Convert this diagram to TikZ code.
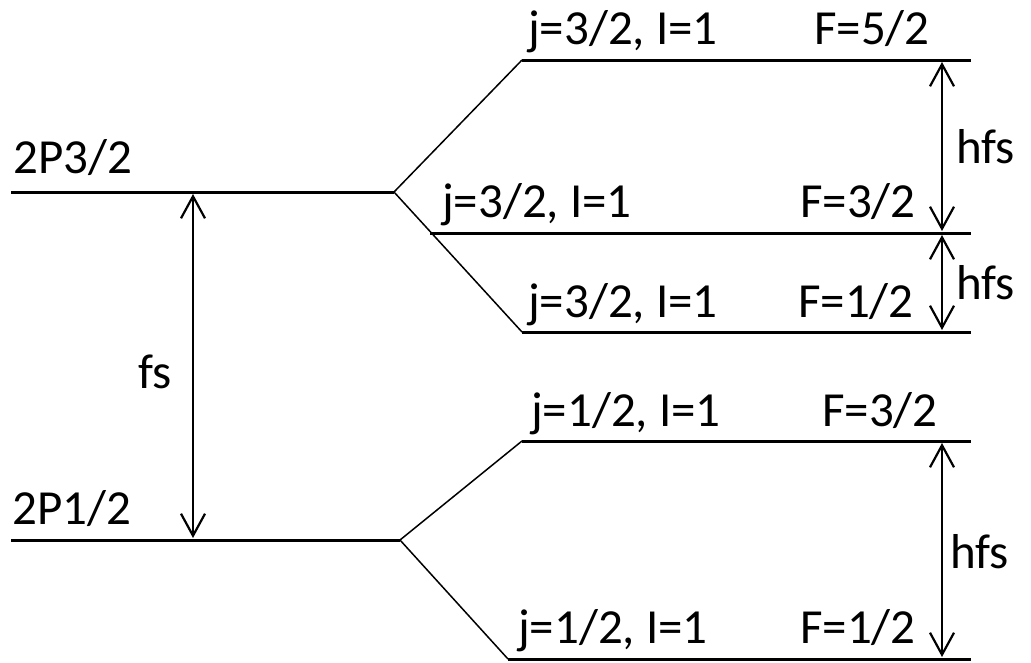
\documentclass[tikz,border=0pt]{standalone}
\usepackage{fontspec}
\setmainfont{Carlito}
\usetikzlibrary{arrows.meta}
\begin{document}
\begin{tikzpicture}[x=1pt,y=-1pt,
 level/.style={line width=3pt},
 fan/.style={line width=1.5pt},
 gap/.style={line width=2.2pt,{Straight Barb[length=22pt,width=24pt]}-{Straight Barb[length=22pt,width=24pt]}},
 lbl/.style={inner sep=0pt,anchor=base west,font=\fontsize{49}{58}\selectfont}]
\useasboundingbox (0,0) rectangle (1031,662);
% levels
\coordinate (a1) at (11,192); \coordinate (a2) at (394,192);
\coordinate (b1) at (11,540); \coordinate (b2) at (400,540);
\coordinate (u1) at (522,60);  \coordinate (u2) at (971,60);
\coordinate (m1) at (430,233); \coordinate (m2) at (971,233);
\coordinate (l1) at (522,332); \coordinate (l2) at (971,332);
\coordinate (p1) at (522,441); \coordinate (p2) at (971,441);
\coordinate (q1) at (508,659); \coordinate (q2) at (971,659);
\draw[level] (a1) -- (a2);
\draw[level] (b1) -- (b2);
\draw[level] (u1) -- (u2);
\draw[level] (m1) -- (m2);
\draw[level] (l1) -- (l2);
\draw[level] (p1) -- (p2);
\draw[level] (q1) -- (q2);
\draw[fan] (a2) -- (u1);
\draw[fan] (a2) -- (l1);
\draw[fan] (b2) -- (p1);
\draw[fan] (b2) -- (q1);
% arrows
\coordinate (fsT) at (193,194); \coordinate (fsB) at (193,538);
\coordinate (h1T) at (942,62);  \coordinate (h1B) at (942,231);
\coordinate (h2T) at (942,235); \coordinate (h2B) at (942,330);
\coordinate (h3T) at (942,443); \coordinate (h3B) at (942,657);
\draw[gap] (fsT) -- (fsB);
\draw[gap] (h1T) -- (h1B);
\draw[gap] (h2T) -- (h2B);
\draw[gap] (h3T) -- (h3B);
% labels
\node[lbl] (t1) at (13,173) {2P3/2};
\node[lbl] (t2) at (12,524) {2P1/2};
\node[lbl] (tfs) at (138,388) {fs};
\node[lbl] (j1) at (528,44) {j=3/2, I=1};
\node[lbl] (f1) at (814,44) {F=5/2};
\node[lbl] (j2) at (442,217) {j=3/2, I=1};
\node[lbl] (f2) at (800,217) {F=3/2};
\node[lbl] (j3) at (528,317) {j=3/2, I=1};
\node[lbl] (f3) at (798,317) {F=1/2};
\node[lbl] (j4) at (531,426) {j=1/2, I=1};
\node[lbl] (f4) at (822,426) {F=3/2};
\node[lbl] (j5) at (518,643) {j=1/2, I=1};
\node[lbl] (f5) at (800,643) {F=1/2};
\node[lbl] (hf1) at (956,163) {hfs};
\node[lbl] (hf2) at (956,299) {hfs};
\node[lbl] (hf3) at (950,568) {hfs};
\end{tikzpicture}
\end{document}
